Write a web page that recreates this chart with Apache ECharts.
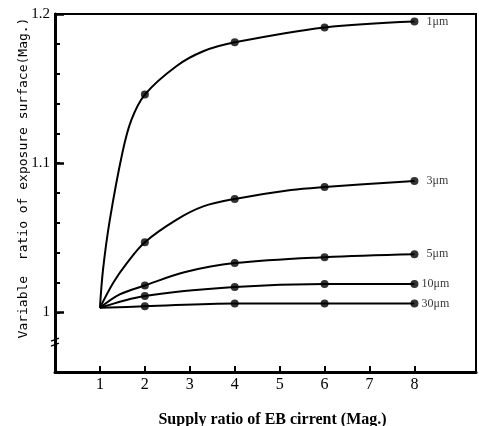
<!DOCTYPE html>
<html><head><meta charset="utf-8">
<script src="https://cdn.jsdelivr.net/npm/echarts@6/dist/echarts.min.js"></script>
<style>html,body{margin:0;padding:0;background:#fff}#c{width:479px;height:426px}</style>
</head><body><div id="c"></div>
<script>
// measured points (markers)
const xValues = [1, 2, 4, 6, 8];
const s1um = [1.003, 1.146, 1.181, 1.191, 1.195];
const s3um = [1.003, 1.047, 1.076, 1.084, 1.088];
const s5um = [1.003, 1.018, 1.033, 1.037, 1.039];
const s10um = [1.003, 1.011, 1.017, 1.019, 1.019];
const s30um = [1.003, 1.004, 1.006, 1.006, 1.006];
// curve shapes
const c1umX = [1, 1.07, 1.22, 1.5, 1.7, 2, 2.7, 3.3, 4, 6, 8];
const c1umY = [1.003, 1.029, 1.062, 1.107, 1.129, 1.146, 1.165, 1.175, 1.181, 1.191, 1.195];
const c3umX = [1, 1.3, 1.6, 2, 2.7, 3.3, 4, 5.25, 6, 8];
const c3umY = [1.003, 1.020, 1.033, 1.047, 1.062, 1.071, 1.076, 1.082, 1.084, 1.088];
const c5umX = [1, 1.44, 2, 2.9, 4, 6, 8];
const c5umY = [1.003, 1.012, 1.018, 1.027, 1.033, 1.037, 1.039];
const seriesNames = ['1μm', '3μm', '5μm', '10μm', '30μm'];
const seriesData = [s1um, s3um, s5um, s10um, s30um];
const curveX = [c1umX, c3umX, c5umX, xValues, xValues];
const curveY = [c1umY, c3umY, c5umY, s10um, s30um];
const labelGaps = [8, 8, 8, 3, 3];
const xTicks = [1, 2, 3, 4, 5, 6, 7, 8];
const yMinorTicks = [1, 1.02, 1.04, 1.06, 1.08, 1.1, 1.12, 1.14, 1.16, 1.18, 1.2];
const yLabels = [1, 1.1, 1.2];

const chart = echarts.init(document.getElementById('c'));
const serif = 'Liberation Serif';
const series = [];
seriesNames.forEach((name, i) => {
  series.push({
    name: name + ' curve', type: 'line', smooth: 0.35,
    data: curveX[i].map((x, j) => [x, curveY[i][j]]),
    showSymbol: false, symbol: 'none',
    lineStyle: {color: '#000', width: 2}
  });
  series.push({
    name, type: 'scatter',
    data: xValues.slice(1).map((x, j) => [x, seriesData[i][j + 1]]),
    symbol: 'circle', symbolSize: 8,
    itemStyle: {color: '#000'},
    label: {
      show: true, position: 'right', distance: labelGaps[i],
      formatter: p => p.dataIndex === xValues.length - 2 ? name : '',
      fontFamily: serif, fontSize: 12, color: '#000'
    }
  });
});
chart.setOption({
  animation: false,
  grid: {left: 55, right: 3, top: 14, bottom: 54, show: true, borderColor: '#000', borderWidth: 2,
    outerBoundsMode: 'none', containLabel: false},
  xAxis: {
    type: 'value', min: 0, max: 9.37,
    name: 'Supply ratio of EB cirrent (Mag.)', nameLocation: 'middle', nameGap: 40, nameMoveOverlap: false,
    nameTextStyle: {fontFamily: serif, fontSize: 16, fontWeight: 'bold', color: '#000', padding: [0, 0, 0, 14]},
    axisLine: {lineStyle: {color: '#000', width: 3}},
    axisTick: {inside: true, length: 6, lineStyle: {color: '#000', width: 2}, customValues: xTicks},
    axisLabel: {fontFamily: serif, fontSize: 16, color: '#000', margin: 5, customValues: xTicks},
    splitLine: {show: false}
  },
  yAxis: [{
    type: 'value', min: 0.96, max: 1.2,
    name: 'Variable  ratio of exposure surface(Mag.)', nameLocation: 'middle', nameGap: 25, nameMoveOverlap: false,
    nameTextStyle: {fontFamily: 'DejaVu Sans Mono', fontSize: 13, color: '#000', padding: [0, 0, 0, 30]},
    axisLine: {lineStyle: {color: '#000', width: 3}},
    axisTick: {inside: true, length: 5, lineStyle: {color: '#000', width: 2}, customValues: yMinorTicks},
    axisLabel: {fontFamily: serif, fontSize: 15, color: '#000', margin: 5, customValues: yLabels,
      formatter: v => String(+v.toFixed(2))},
    splitLine: {show: false}
  }, {
    type: 'value', min: 0.96, max: 1.2, position: 'left',
    axisLine: {show: false},
    axisTick: {show: true, inside: true, length: 9, lineStyle: {color: '#000', width: 2.5}, customValues: yLabels},
    axisLabel: {show: false}, splitLine: {show: false}
  }],
  series
});
const bp = chart.convertToPixel({xAxisIndex: 0, yAxisIndex: 0}, [0, 0.98]);
chart.setOption({graphic: [{
  type: 'group', x: bp[0], y: bp[1], silent: true,
  children: [
    {type: 'rect', shape: {x: -3, y: -4, width: 6, height: 8}, style: {fill: '#fff'}},
    {type: 'line', shape: {x1: -4, y1: -1, x2: 4, y2: -4}, style: {stroke: '#000', lineWidth: 1.5}},
    {type: 'line', shape: {x1: -4, y1: 4, x2: 4, y2: 1}, style: {stroke: '#000', lineWidth: 1.5}}
  ]
}]});
</script></body></html>
